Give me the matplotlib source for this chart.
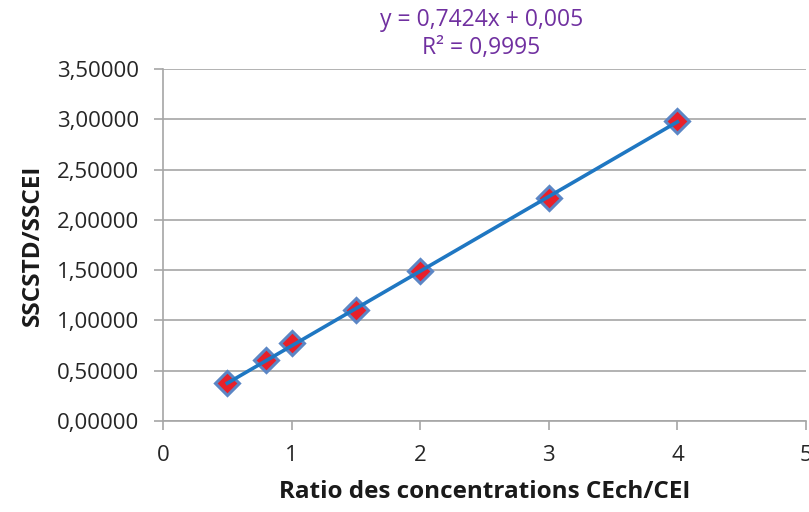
import matplotlib.pyplot as plt
import numpy as np
from matplotlib.ticker import FuncFormatter

plt.rcParams['font.family'] = ['Open Sans', 'DejaVu Sans']

# ratio of concentrations vs SSCSTD/SSCEI
ratio = [0.5, 0.8, 1.0, 1.5, 2.0, 3.0, 4.0]
sscstd = [0.378, 0.606, 0.775, 1.103, 1.49, 2.217, 2.98]
slope = 0.7424
intercept = 0.005
eq_text = 'y = 0,7424x + 0,005\nR² = 0,9995'

fig = plt.figure(figsize=(8.09, 5.12), dpi=100)
ax = fig.add_axes([0.2015, 0.1777, 0.7948, 0.6875])

ax.plot(ratio, sscstd, linestyle='none', marker='D', markersize=12,
        markerfacecolor='#e8202a', markeredgecolor='#5b86c5',
        markeredgewidth=2.2, zorder=3)

xt = np.array([ratio[0], ratio[-1]])
ax.plot(xt, slope * xt + intercept, color='#1f77c2', linewidth=2.6, zorder=4)

ax.set_xlim(0, 5)
ax.set_ylim(0, 3.5)
ax.set_xticks(range(0, 6))
ax.set_yticks(np.arange(0, 3.51, 0.5))
ax.yaxis.set_major_formatter(FuncFormatter(lambda v, p: f'{v:.5f}'.replace('.', ',')))
ax.grid(axis='y', color='#a6a6a6', linewidth=1.2)
ax.set_axisbelow(True)

for s in ['top', 'right']:
    ax.spines[s].set_visible(False)
for s in ['left', 'bottom']:
    ax.spines[s].set_color('#a6a6a6')
    ax.spines[s].set_linewidth(1.2)
ax.tick_params(colors='#a6a6a6', labelcolor='#262626', labelsize=16,
               length=6.5, width=1.2)
ax.tick_params(axis='y', pad=11)
ax.tick_params(axis='x', pad=11)

ax.set_xlabel('Ratio des concentrations CEch/CEI', fontsize=17.5,
              fontweight='bold', color='#1a1a1a', labelpad=10)
ax.set_ylabel('SSCSTD/SSCEI', fontsize=17.5, fontweight='bold',
              color='#1a1a1a', labelpad=8)

fig.text(0.595, 0.934, eq_text, ha='center', va='center', fontsize=16.5,
         color='#7030a0', linespacing=1.25)

fig.savefig('out.png', dpi=100)
